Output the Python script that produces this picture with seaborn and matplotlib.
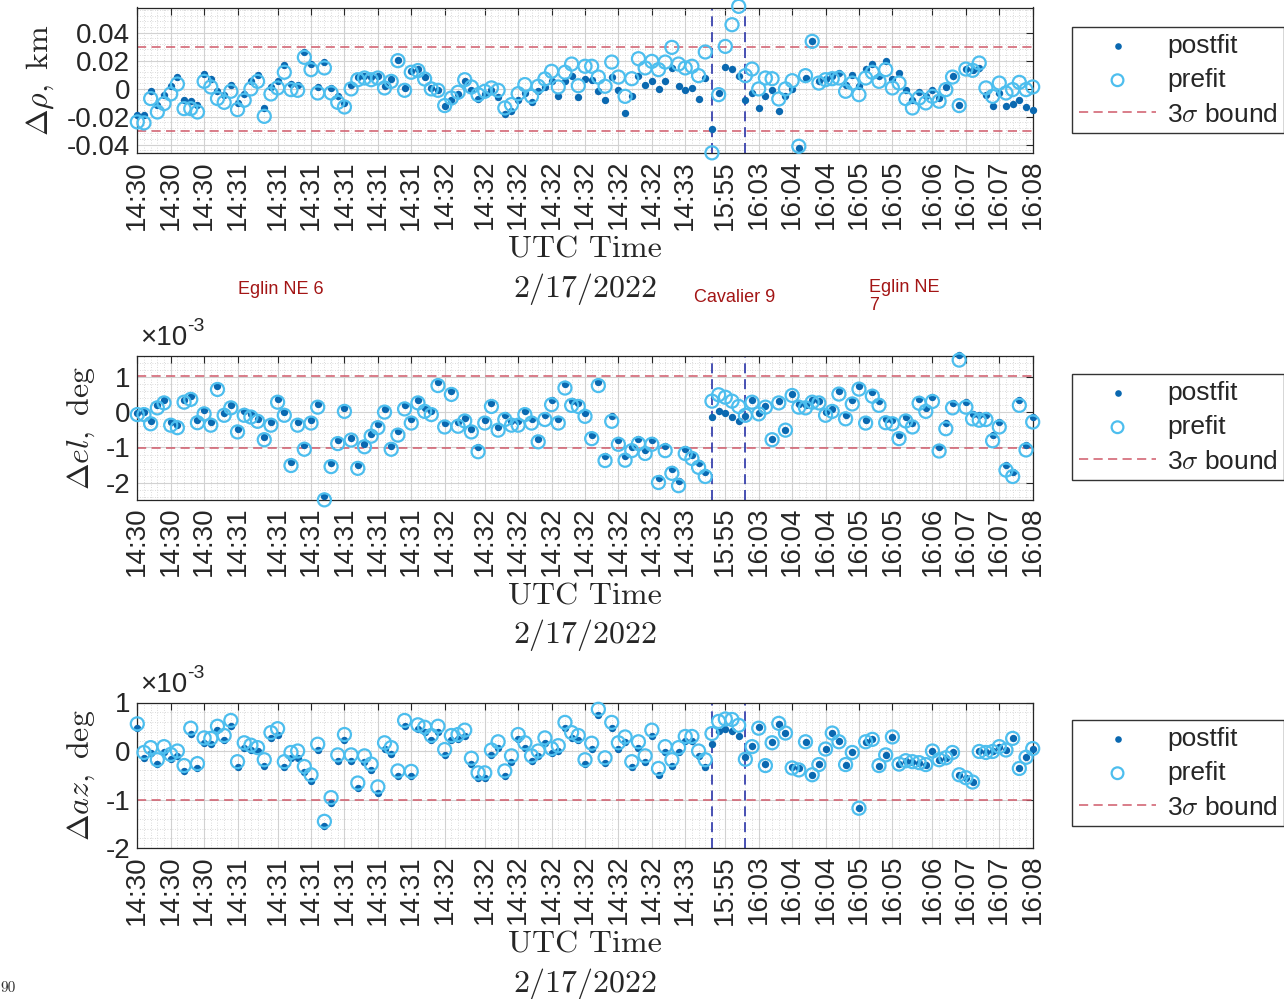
import numpy as np
import pandas as pd
import matplotlib
matplotlib.use('Agg')
import matplotlib.pyplot as plt
import matplotlib.ticker as ticker
import seaborn as sns

# ---- data ----
sample_idx = np.arange(135)

tick_idx = [0, 5, 10, 15, 21, 26, 31, 36, 41, 46, 52, 57, 62, 67, 72, 77, 82,
            88, 93, 98, 103, 108, 113, 119, 124, 129, 134]
tick_labels = ['14:30', '14:30', '14:30', '14:31', '14:31', '14:31', '14:31', '14:31', '14:31',
               '14:32', '14:32', '14:32', '14:32', '14:32', '14:32', '14:32', '14:33',
               '15:55', '16:03', '16:04', '16:04', '16:05', '16:05', '16:06', '16:07', '16:07', '16:08']

# station pass boundaries (sample index)
pass_breaks = [86, 91]
stations = ['Eglin NE 6', 'Cavalier 9', 'Eglin NE\n7']

# range residuals, km
rho_post = [-0.0190, -0.0190, -0.0019, -0.0114, -0.0048, 0.0017, 0.0083, -0.0079, -0.0086, -0.0114,
            0.0107, 0.0071, -0.0019, -0.0048, 0.0029, -0.0102, -0.0038, 0.0052, 0.0100, -0.0138,
            0.0012, 0.0052, 0.0167, 0.0036, 0.0029, 0.0262, 0.0176, 0.0012, 0.0188, 0.0005,
            -0.0055, -0.0102, 0.0024, 0.0083, 0.0088, 0.0081, 0.0093, 0.0021, 0.0069, 0.0207,
            0.0005, 0.0124, 0.0140, 0.0083, 0.0005, -0.0007, -0.0126, -0.0079, -0.0038, 0.0052,
            -0.0012, -0.0071, -0.0036, -0.0007, -0.0060, -0.0179, -0.0157, -0.0079, -0.0031, -0.0095,
            -0.0019, 0.0012, 0.0052, -0.0050, 0.0052, 0.0093, -0.0062, 0.0071, 0.0064, -0.0019,
            -0.0083, 0.0083, -0.0012, -0.0174, -0.0055, 0.0093, 0.0029, 0.0052, -0.0002, 0.0052,
            0.0148, 0.0021, -0.0007, 0.0005, -0.0071, 0.0076, -0.0288, -0.0031, 0.0152, 0.0140,
            0.0088, -0.0079, -0.0031, -0.0138, -0.0055, -0.0007, -0.0162, -0.0055, -0.0002, -0.0424,
            0.0076, 0.0343, 0.0057, 0.0069, 0.0088, 0.0112, 0.0029, 0.0100, 0.0021, 0.0140,
            0.0176, 0.0093, 0.0200, 0.0069, 0.0112, -0.0007, -0.0079, -0.0026, -0.0055, -0.0007,
            -0.0067, 0.0012, 0.0088, -0.0114, 0.0140, 0.0136, 0.0148, -0.0043, -0.0126, -0.0031,
            -0.0121, -0.0107, -0.0079, -0.0133, -0.0150]
rho_pre = [-0.0238, -0.0245, -0.0071, -0.0167, -0.0107, -0.0038, 0.0033, -0.0143, -0.0143, -0.0167,
           0.0052, 0.0012, -0.0071, -0.0098, -0.0019, -0.0150, -0.0083, -0.0002, 0.0052, -0.0198,
           -0.0038, 0.0005, 0.0117, -0.0007, -0.0012, 0.0224, 0.0136, -0.0031, 0.0148, -0.0031,
           -0.0098, -0.0131, -0.0002, 0.0064, 0.0076, 0.0064, 0.0076, 0.0005, 0.0052, 0.0200,
           -0.0012, 0.0117, 0.0129, 0.0069, -0.0002, -0.0012, -0.0121, -0.0067, -0.0026, 0.0064,
           0.0012, -0.0043, -0.0019, 0.0005, -0.0012, -0.0138, -0.0114, -0.0036, 0.0029, -0.0055,
           0.0017, 0.0069, 0.0124, 0.0012, 0.0117, 0.0176, 0.0021, 0.0160, 0.0160, 0.0083,
           0.0017, 0.0190, 0.0083, -0.0055, 0.0071, 0.0214, 0.0148, 0.0195, 0.0136, 0.0190,
           0.0295, 0.0176, 0.0148, 0.0160, 0.0093, 0.0262, -0.0459, -0.0043, 0.0302, 0.0457,
           0.0588, 0.0093, 0.0140, -0.0002, 0.0076, 0.0071, -0.0074, -0.0002, 0.0057, -0.0412,
           0.0093, 0.0338, 0.0040, 0.0064, 0.0071, 0.0076, -0.0019, 0.0040, -0.0043, 0.0076,
           0.0117, 0.0052, 0.0136, 0.0005, 0.0040, -0.0071, -0.0138, -0.0067, -0.0102, -0.0055,
           -0.0090, -0.0007, 0.0083, -0.0121, 0.0140, 0.0131, 0.0183, 0.0005, -0.0055, 0.0040,
           -0.0031, -0.0007, 0.0045, -0.0007, 0.0012]

# elevation residuals, x1e-3 deg
el_post = [-0.02, 0.00, -0.25, 0.19, 0.35, -0.28, -0.37, 0.35, 0.45, -0.21,
           0.05, -0.28, 0.73, -0.02, 0.21, -0.49, 0.02, -0.05, -0.19, -0.70,
           -0.28, 0.37, 0.00, -1.42, -0.28, -0.93, -0.21, 0.23, -2.38, -1.45,
           -0.78, 0.12, -0.72, -1.50, -0.89, -0.61, -0.35, 0.09, -0.96, -0.54,
           0.19, -0.19, 0.35, 0.12, 0.02, 0.84, -0.31, 0.59, -0.28, -0.17,
           -0.47, -1.00, -0.21, 0.25, -0.42, -0.09, -0.26, -0.26, 0.03, -0.19,
           -0.75, -0.07, 0.33, -0.19, 0.79, 0.30, 0.25, -0.03, -0.65, 0.86,
           -1.24, -0.12, -0.78, -1.24, -0.98, -0.75, -1.06, -0.79, -1.87, -0.96,
           -1.62, -1.94, -1.03, -1.21, -1.45, -1.68, -0.14, 0.03, -0.03, -0.14,
           -0.26, -0.12, 0.33, -0.03, 0.16, -0.75, 0.31, -0.50, 0.51, 0.23,
           0.21, 0.33, 0.31, 0.00, 0.09, 0.59, -0.09, 0.35, 0.75, -0.21,
           0.56, 0.30, -0.19, -0.21, -0.64, -0.14, -0.31, 0.37, 0.12, 0.44,
           -0.98, -0.31, 0.25, 1.62, 0.28, -0.05, -0.07, -0.07, -0.65, -0.28,
           -1.50, -1.68, 0.33, -0.92, -0.14]
el_pre = [-0.07, -0.07, -0.33, 0.12, 0.26, -0.37, -0.44, 0.28, 0.36, -0.30,
          -0.05, -0.37, 0.64, -0.09, 0.12, -0.56, -0.09, -0.14, -0.26, -0.78,
          -0.37, 0.28, -0.09, -1.51, -0.37, -1.05, -0.31, 0.14, -2.48, -1.54,
          -0.89, 0.02, -0.79, -1.59, -0.98, -0.68, -0.44, 0.00, -1.05, -0.65,
          0.09, -0.31, 0.26, 0.02, -0.07, 0.75, -0.42, 0.50, -0.40, -0.25,
          -0.56, -1.12, -0.31, 0.16, -0.51, -0.21, -0.37, -0.37, -0.07, -0.31,
          -0.84, -0.21, 0.21, -0.31, 0.68, 0.19, 0.16, -0.12, -0.75, 0.75,
          -1.37, -0.26, -0.91, -1.36, -1.09, -0.89, -1.17, -0.91, -1.99, -1.09,
          -1.73, -2.08, -1.17, -1.31, -1.56, -1.82, 0.31, 0.49, 0.42, 0.31,
          0.16, -0.09, 0.28, -0.05, 0.14, -0.78, 0.26, -0.51, 0.47, 0.14,
          0.12, 0.28, 0.26, -0.09, 0.02, 0.51, -0.19, 0.23, 0.65, -0.31,
          0.45, 0.19, -0.30, -0.33, -0.75, -0.25, -0.42, 0.25, 0.02, 0.30,
          -1.10, -0.47, 0.12, 1.47, 0.14, -0.19, -0.23, -0.21, -0.81, -0.42,
          -1.64, -1.82, 0.19, -1.07, -0.28]

# azimuth residuals, x1e-3 deg
az_post = [0.47, -0.15, -0.05, -0.27, -0.03, -0.16, -0.10, -0.42, 0.36, -0.35,
           0.16, 0.14, 0.43, 0.22, 0.51, -0.32, 0.07, 0.03, -0.01, -0.30,
           0.27, 0.32, -0.34, -0.15, -0.14, -0.43, -0.61, 0.02, -1.55, -1.08,
           -0.20, 0.22, -0.20, -0.77, -0.22, -0.40, -0.87, 0.05, -0.06, -0.52,
           0.51, -0.52, 0.45, 0.39, 0.22, 0.39, -0.09, 0.22, 0.24, 0.31,
           -0.27, -0.55, -0.55, -0.09, 0.07, -0.52, -0.23, 0.24, 0.07, -0.20,
           -0.11, 0.16, -0.05, -0.01, 0.47, 0.27, 0.22, -0.27, 0.05, 0.75,
           -0.25, 0.48, 0.05, 0.19, -0.33, 0.07, -0.22, 0.31, -0.49, -0.03,
           -0.30, -0.03, 0.20, 0.20, -0.11, -0.32, 0.14, 0.41, 0.46, 0.41,
           0.30, -0.13, 0.10, 0.49, -0.27, 0.19, 0.56, 0.37, -0.34, -0.36,
           0.19, -0.49, -0.27, 0.04, 0.37, 0.20, -0.28, -0.03, -1.18, 0.19,
           0.24, -0.30, -0.08, 0.29, -0.27, -0.20, -0.22, -0.24, -0.28, 0.00,
           -0.18, -0.14, -0.03, -0.49, -0.55, -0.64, -0.01, -0.03, -0.01, 0.09,
           0.02, 0.26, -0.36, -0.13, 0.05]
az_pre = [0.56, -0.03, 0.07, -0.18, 0.09, -0.07, 0.00, -0.30, 0.47, -0.26,
          0.27, 0.26, 0.51, 0.32, 0.63, -0.22, 0.17, 0.12, 0.07, -0.18,
          0.38, 0.46, -0.22, -0.03, 0.00, -0.32, -0.49, 0.14, -1.45, -0.96,
          -0.08, 0.34, -0.08, -0.66, -0.10, -0.27, -0.74, 0.17, 0.07, -0.41,
          0.63, -0.42, 0.54, 0.49, 0.32, 0.51, 0.03, 0.32, 0.34, 0.43,
          -0.15, -0.45, -0.45, 0.02, 0.19, -0.41, -0.10, 0.34, 0.17, -0.10,
          0.00, 0.27, 0.05, 0.11, 0.59, 0.38, 0.32, -0.18, 0.16, 0.86,
          -0.14, 0.59, 0.17, 0.29, -0.22, 0.19, -0.10, 0.43, -0.36, 0.09,
          -0.18, 0.07, 0.30, 0.30, 0.00, -0.18, 0.36, 0.61, 0.66, 0.65,
          0.53, -0.17, 0.09, 0.47, -0.30, 0.17, 0.57, 0.37, -0.35, -0.39,
          0.19, -0.49, -0.28, 0.04, 0.37, 0.19, -0.28, -0.03, -1.18, 0.19,
          0.24, -0.30, -0.08, 0.29, -0.27, -0.20, -0.22, -0.24, -0.28, 0.00,
          -0.18, -0.14, -0.03, -0.49, -0.55, -0.64, -0.01, -0.03, -0.01, 0.09,
          0.02, 0.26, -0.36, -0.13, 0.05]

# ---- style ----
sns.set_style('white')
plt.rcParams['font.family'] = ['Liberation Sans', 'DejaVu Sans']
plt.rcParams['mathtext.fontset'] = 'cm'
plt.rcParams['axes.unicode_minus'] = False

c_post = '#0a68b0'
c_pre = '#4dbeee'
c_bound = '#d05a6a'
c_vline = '#2a34a8'
c_station = '#a31515'
W, H = 1284, 999

fig = plt.figure(figsize=(W / 100, H / 100), dpi=100)

panels = [
    # post, pre, bound, ylim, yticks, ylabel, axes top/bottom px, legend top px, x1e-3?
    (rho_post, rho_pre, 0.03, (-0.046, 0.058), [-0.04, -0.02, 0, 0.02, 0.04],
     r'$\Delta\rho,\ \mathrm{km}$', 7.5, 153, 27, False),
    (el_post, el_pre, 1.01, (-2.47, 1.6), [-2, -1, 0, 1],
     r'$\Delta el,\ \mathrm{deg}$', 355.5, 499.5, 374, True),
    (az_post, az_pre, 1.0, (-2.0, 1.0), [-2, -1, 0, 1],
     r'$\Delta az,\ \mathrm{deg}$', 702.5, 848, 720, True),
]

x0, x1 = 137.3, 1032.7
for post, pre, bound, ylim, yticks, ylabel, top, bot, leg_top, milli in panels:
    ax = fig.add_axes([x0 / W, 1 - bot / H, (x1 - x0) / W, (bot - top) / H])
    df = pd.DataFrame({'sample': sample_idx, 'postfit': post, 'prefit': pre})

    sns.scatterplot(data=df, x='sample', y='postfit', ax=ax, color=c_post, s=28,
                    linewidth=0, label='postfit', zorder=3, clip_on=False)
    sns.scatterplot(data=df, x='sample', y='prefit', ax=ax, facecolor='none',
                    edgecolor=c_pre, s=88, linewidth=1.6, label='prefit', zorder=4,
                    clip_on=False)
    ax.axhline(bound, color=c_bound, ls=(0, (6, 3.5)), lw=1.1, label=r'3$\sigma$ bound', zorder=2)
    ax.axhline(-bound, color=c_bound, ls=(0, (6, 3.5)), lw=1.1, zorder=2)
    for xb in pass_breaks:
        ax.axvline(xb, color=c_vline, ls=(0, (6, 3.5)), lw=1.2, zorder=2)

    ax.set_xlim(0, 134)
    ax.set_ylim(*ylim)
    ax.set_xticks(tick_idx)
    ax.set_xticklabels(tick_labels, rotation=90)
    ax.set_yticks(yticks)
    ax.yaxis.set_major_formatter(ticker.FuncFormatter(lambda v, p: '%g' % v))
    ax.xaxis.set_minor_locator(ticker.MultipleLocator(1))
    ax.yaxis.set_minor_locator(ticker.AutoMinorLocator(5))
    ax.grid(True, which='major', color='#d2d2d2', lw=0.8)
    ax.grid(True, which='minor', color='#cfcfcf', ls=(0, (1, 2)), lw=0.6)
    ax.set_axisbelow(True)
    ax.tick_params(which='major', direction='in', length=5, width=0.8, top=True,
                   right=True, labelsize=20, pad=5, colors='#262626')
    ax.tick_params(which='minor', length=0)
    for sp in ax.spines.values():
        sp.set_color('#262626')
        sp.set_linewidth(0.9)

    ax.set_ylabel(ylabel, fontsize=23, labelpad=6 if milli else 8)
    ax.set_xlabel('UTC Time\n2/17/2022', fontfamily='cmr10', fontsize=23,
                  linespacing=1.4, labelpad=5, color='#262626')

    if milli:
        t = ax.text(0.003, 1.03, '×10', transform=ax.transAxes, fontsize=20,
                    ha='left', va='bottom', color='#262626')
        ax.annotate('-3', xy=(1, 0.95), xycoords=t, fontsize=14, ha='left',
                    va='center', color='#262626')

    handles, labels = ax.get_legend_handles_labels()
    hmap = dict(zip(labels, handles))
    order = ['postfit', 'prefit', r'3$\sigma$ bound']
    ax.legend([hmap[k] for k in order], order, loc='upper left',
              bbox_to_anchor=(1072 / W, 1 - leg_top / H), bbox_transform=fig.transFigure,
              fancybox=False, framealpha=1, edgecolor='#333333', fontsize=19,
              handlelength=2.95, handletextpad=0.4, borderpad=0.25, labelspacing=0.4,
              borderaxespad=0, markerscale=0.9)

# station labels between the first two panels
fig.text(238 / W, 1 - 289 / H, stations[0], color=c_station, fontsize=13, va='center', ha='left')
fig.text(694 / W, 1 - 297 / H, stations[1], color=c_station, fontsize=13, va='center', ha='left')
fig.text(869 / W, 1 - 279 / H, stations[2], color=c_station, fontsize=13, va='top', ha='left',
         linespacing=1.05)
fig.text(0.0, 1 - 988 / H, '90', fontfamily='cmr10', fontsize=11, va='center', ha='left',
         color='#333333')

fig.savefig('out.png', dpi=100)
